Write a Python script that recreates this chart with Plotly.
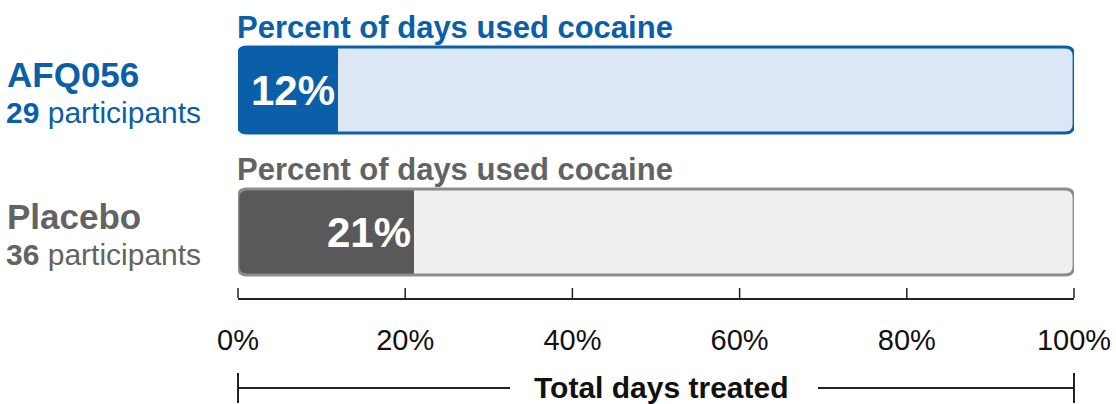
import plotly.graph_objects as go

# ---- data ----
groups = ["AFQ056", "Placebo"]
participants = [29, 36]
pct_days_cocaine = [12, 21]
bar_titles = ["Percent of days used cocaine", "Percent of days used cocaine"]
tick_vals = [0, 20, 40, 60, 80, 100]
tick_text = ["0%", "20%", "40%", "60%", "80%", "100%"]
axis_title = "Total days treated"

# ---- styles ----
dark = ["#0b5fa8", "#595959"]
light = ["#dbe7f6", "#efefef"]
border = ["#0b5fa8", "#8c8c8c"]
txt = ["#0b5fa8", "#636363"]
FONT = "Liberation Sans, Arial, sans-serif"

W, H = 1116, 404
ML, MR, MT, MB = 238, 42, 0, 106
plot_w = W - ML - MR
plot_h = H - MT - MB
px_per_unit = 142.0
y_top = -90.0 / px_per_unit
y_bot = y_top + plot_h / px_per_unit
bar_w = 86.0 / px_per_unit

pos = list(range(len(groups)))

fig = go.Figure()

# remainder (light) bars
fig.add_trace(go.Bar(
    y=pos, x=[100 - v for v in pct_days_cocaine], base=pct_days_cocaine,
    orientation="h", width=bar_w,
    marker=dict(color=light, line=dict(width=0)),
    hoverinfo="skip", showlegend=False,
))
# value (dark) bars
fig.add_trace(go.Bar(
    y=pos, x=pct_days_cocaine, orientation="h", width=bar_w,
    marker=dict(color=dark, line=dict(width=0)),
    text=[f"{v}%" for v in pct_days_cocaine], textposition="inside",
    insidetextanchor="end",
    textfont=dict(family=FONT, size=42, color="white", weight="bold"),
    texttemplate="<b>%{text}</b>",
    hoverinfo="skip", showlegend=False, cliponaxis=False,
))

# rounded outlines + corner masks
rx = 9.0 / (plot_w / 100.0)
ry = 9.0 / px_per_unit
shapes = []
for i, p in enumerate(pos):
    x0, x1 = 0, 100
    t, b = p - bar_w / 2, p + bar_w / 2
    masks = [
        f"M {x0},{t} L {x0+rx},{t} Q {x0},{t} {x0},{t+ry} Z",
        f"M {x1},{t} L {x1-rx},{t} Q {x1},{t} {x1},{t+ry} Z",
        f"M {x0},{b} L {x0+rx},{b} Q {x0},{b} {x0},{b-ry} Z",
        f"M {x1},{b} L {x1-rx},{b} Q {x1},{b} {x1},{b-ry} Z",
    ]
    for m in masks:
        shapes.append(dict(type="path", path=m, xref="x", yref="y",
                           fillcolor="white", line=dict(width=0), layer="above"))
    outline = (f"M {x0+rx},{t} L {x1-rx},{t} Q {x1},{t} {x1},{t+ry} "
               f"L {x1},{b-ry} Q {x1},{b} {x1-rx},{b} "
               f"L {x0+rx},{b} Q {x0},{b} {x0},{b-ry} "
               f"L {x0},{t+ry} Q {x0},{t} {x0+rx},{t} Z")
    shapes.append(dict(type="path", path=outline, xref="x", yref="y",
                       line=dict(color=border[i], width=2.8), layer="above"))

# axis ticks (drawn upward from the axis line, including the end ticks)
tick_h = 10.0 / plot_h
for v in tick_vals:
    shapes.append(dict(type="line", xref="paper", yref="paper",
                       x0=v / 100.0, x1=v / 100.0, y0=0, y1=tick_h,
                       line=dict(color="#222222", width=1.5)))

# bottom bracket
line_y = 1 - (388 - MT) / plot_h
cap_top = 1 - (373 - MT) / plot_h
cap_bot = 1 - (403 - MT) / plot_h
lx1 = (510 - ML) / plot_w
rx0 = (818 - ML) / plot_w
bk = dict(color="#222222", width=2)
shapes += [
    dict(type="line", xref="paper", yref="paper", x0=0, x1=lx1, y0=line_y, y1=line_y, line=bk),
    dict(type="line", xref="paper", yref="paper", x0=rx0, x1=1, y0=line_y, y1=line_y, line=bk),
    dict(type="line", xref="paper", yref="paper", x0=0, x1=0, y0=cap_top, y1=cap_bot, line=bk),
    dict(type="line", xref="paper", yref="paper", x0=1, x1=1, y0=cap_top, y1=cap_bot, line=bk),
]

annotations = []
lab_x = (8 - ML) / plot_w
for i, p in enumerate(pos):
    annotations.append(dict(
        x=0, y=p - 63 / px_per_unit, xref="x", yref="y", xanchor="left", yanchor="middle",
        text=f"<b>{bar_titles[i]}</b>", showarrow=False, xshift=-3,
        font=dict(family=FONT, size=31, color=txt[i])))
    annotations.append(dict(
        x=lab_x, y=p - 16 / px_per_unit, xref="paper", yref="y", xanchor="left", yanchor="middle",
        text=f"<b>{groups[i]}</b>", showarrow=False, xshift=-3,
        font=dict(family=FONT, size=35, color=txt[i])))
    annotations.append(dict(
        x=lab_x, y=p + 22 / px_per_unit, xref="paper", yref="y", xanchor="left", yanchor="middle",
        text=f"<b>{participants[i]}</b> participants", showarrow=False, xshift=-4,
        font=dict(family=FONT, size=30, color=txt[i])))

annotations.append(dict(
    x=(661 - ML) / plot_w, y=line_y, xref="paper", yref="paper", xanchor="center", yanchor="middle",
    text=f"<b>{axis_title}</b>", showarrow=False,
    font=dict(family=FONT, size=30, color="#111111")))

fig.update_layout(
    width=W, height=H,
    margin=dict(l=ML, r=MR, t=MT, b=MB, pad=0),
    paper_bgcolor="white", plot_bgcolor="white",
    barmode="overlay", bargap=0,
    shapes=shapes, annotations=annotations,
    xaxis=dict(range=[0, 100], tickvals=tick_vals, ticktext=tick_text,
               ticks="", showline=True, linecolor="#222222", linewidth=1.5,
               showgrid=False, zeroline=False, ticklabelstandoff=15,
               tickfont=dict(family=FONT, size=29, color="#111111"),
               fixedrange=True),
    yaxis=dict(range=[y_bot, y_top], showticklabels=False, showgrid=False,
               zeroline=False, showline=False, ticks="", fixedrange=True),
    font=dict(family=FONT),
)

fig.write_html("out.html")
